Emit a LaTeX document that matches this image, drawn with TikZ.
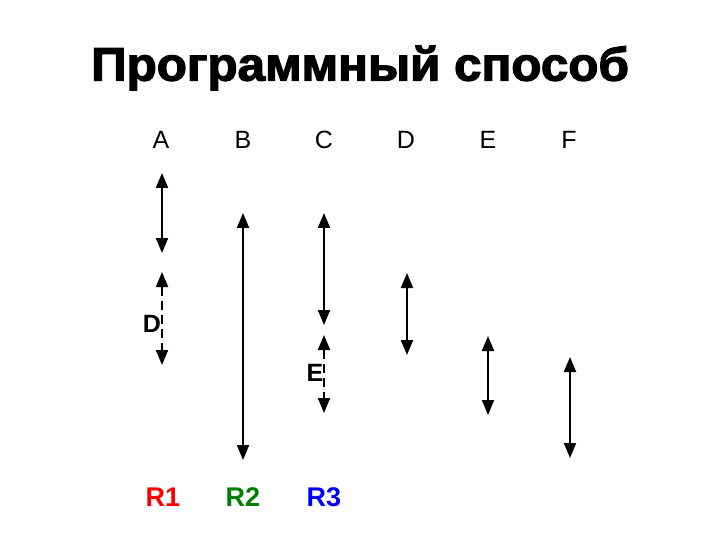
\documentclass[tikz,border=0pt]{standalone}
\usepackage{fontspec}
\setmainfont{Liberation Sans}
\newfontfamily\titlefont[BoldFeatures={FakeBold=2.5}]{Liberation Sans}
\usetikzlibrary{arrows.meta}
\definecolor{rgreen}{RGB}{0,128,0}
\begin{document}
\begin{tikzpicture}[x=1pt,y=-1pt,
  dbl/.style={line width=2pt,{Triangle[length=15pt,width=12pt]}-{Triangle[length=15pt,width=12pt]}},
  dsh/.style={dbl,dash pattern=on 9pt off 5pt},
  hdr/.style={font=\fontsize{25}{30}\selectfont,inner sep=0pt},
  lbl/.style={font=\fontsize{25}{30}\selectfont\bfseries,inner sep=0pt},
  rlbl/.style={font=\fontsize{27}{32}\selectfont\bfseries,inner sep=0pt},
  title/.style={font=\titlefont\fontsize{47}{54}\selectfont\bfseries,inner sep=0pt,xscale=1.05}]
\useasboundingbox (0,0) rectangle (720,540);
\node[title] (t) at (360,68) {Программный способ};
\node[hdr] (hA) at (161,140) {A};
\node[hdr] (hB) at (243,140) {B};
\node[hdr] (hC) at (324,140) {C};
\node[hdr] (hD) at (406,140) {D};
\node[hdr] (hE) at (488,140) {E};
\node[hdr] (hF) at (569,140) {F};
% A
\coordinate (a1) at (162,173); \coordinate (a2) at (162,253);
\coordinate (a3) at (162,272); \coordinate (a4) at (162,365);
\draw[dbl] (a1) -- (a2);
\draw[dsh] (a3) -- (a4);
\node[lbl] (lD) at (152,324) {D};
% B
\coordinate (b1) at (243,213); \coordinate (b2) at (243,460);
\draw[dbl] (b1) -- (b2);
% C
\coordinate (c1) at (324,213); \coordinate (c2) at (324,325);
\coordinate (c3) at (324,335); \coordinate (c4) at (324,413);
\draw[dbl] (c1) -- (c2);
\draw[dsh] (c3) -- (c4);
\node[lbl] (lE) at (315,373) {E};
% D
\coordinate (d1) at (407,273); \coordinate (d2) at (407,355);
\draw[dbl] (d1) -- (d2);
% E
\coordinate (e1) at (488,336); \coordinate (e2) at (488,415);
\draw[dbl] (e1) -- (e2);
% F
\coordinate (f1) at (570,357); \coordinate (f2) at (570,458);
\draw[dbl] (f1) -- (f2);
% R labels
\node[rlbl,text=red] (r1) at (163,497) {R1};
\node[rlbl,text=rgreen] (r2) at (243,497) {R2};
\node[rlbl,text=blue] (r3) at (324,497) {R3};
\end{tikzpicture}
\end{document}
